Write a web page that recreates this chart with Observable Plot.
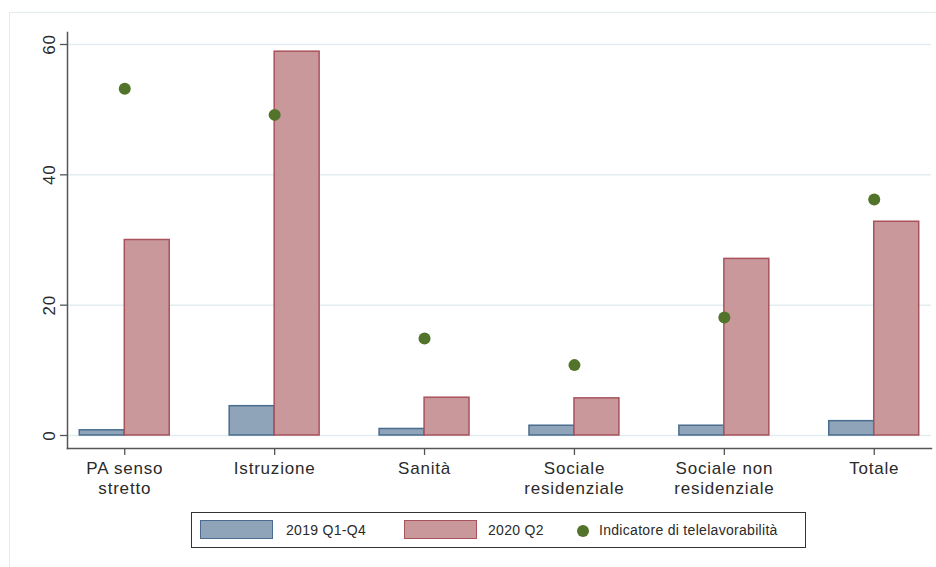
<!DOCTYPE html>
<html>
<head>
<meta charset="utf-8">
<script src="https://cdn.jsdelivr.net/npm/d3@7"></script>
<script src="https://cdn.jsdelivr.net/npm/@observablehq/plot@0.6"></script>
<style>
  body { margin: 0; background: #fff; font-family: "Liberation Sans", Arial, sans-serif; }
  #wrap { position: relative; width: 936px; height: 567px; overflow: hidden; background: #fff; }
  #frame { position: absolute; left: 9px; top: 12px; width: 1000px; height: 1000px; border: 1.5px solid #e4ecee; }
  #chart { position: absolute; left: 0; top: 0; }
  #legend { position: absolute; left: 191px; top: 512px; width: 615px; height: 36px; box-sizing: border-box; border: 1.3px solid #333; background: #fff; }
  #legend .sw { position: absolute; top: 7px; width: 73px; height: 19px; box-sizing: border-box; border: 1.5px solid; }
  #legend .dot { position: absolute; top: 12px; width: 12px; height: 12px; border-radius: 50%; }
  #legend .lab { position: absolute; top: 0; line-height: 34px; font-size: 14px; letter-spacing: 0.3px; color: #2a2a2a; white-space: nowrap; }
</style>
</head>
<body>
<div id="wrap">
  <div id="frame"></div>
  <div id="chart"></div>
  <div id="legend"></div>
</div>
<script>
// ---- data ----
const categories = ["PA senso stretto", "Istruzione", "Sanità", "Sociale residenziale", "Sociale non residenziale", "Totale"];
const tickLabels = ["PA senso\nstretto", "Istruzione", "Sanità", "Sociale\nresidenziale", "Sociale non\nresidenziale", "Totale"];
const seriesNames = ["2019 Q1-Q4", "2020 Q2", "Indicatore di telelavorabilità"];
const v2019 = [0.8, 4.5, 1.0, 1.5, 1.5, 2.2];
const v2020 = [30.0, 58.9, 5.8, 5.7, 27.1, 32.8];
const telelavoro = [53.2, 49.2, 14.9, 10.8, 18.1, 36.2];
const yTicks = [0, 20, 40, 60];

// ---- styles ----
const blueFill = "#8fa4b8", blueStroke = "#4a6d8f";
const redFill = "#c9989b", redStroke = "#a9525c";
const green = "#52732a";
const axisColor = "#555";

const rows = categories.map((c, i) => ({cat: c, a: v2019[i], b: v2020[i], t: telelavoro[i]}));

const plot = Plot.plot({
  width: 936,
  height: 510,
  marginLeft: 67,
  marginRight: 5,
  marginTop: 32,
  marginBottom: 62,
  style: {fontFamily: "'Liberation Sans', Arial, sans-serif", fontSize: "17px", color: "#2a2a2a", letterSpacing: "0.8px", background: "transparent"},
  x: {domain: categories, paddingInner: 0.4, paddingOuter: 0.082, round: false, axis: null},
  y: {domain: [0, 60], insetTop: 12, insetBottom: 13, axis: null},
  marks: [
    Plot.gridY(yTicks, {stroke: "#e2edf0", strokeOpacity: 1, strokeWidth: 1.5}),
    Plot.barY(rows, {x: "cat", y: "a", fill: blueFill, stroke: blueStroke, strokeWidth: 1.5, insetRight: 45}),
    Plot.barY(rows, {x: "cat", y: "b", fill: redFill, stroke: redStroke, strokeWidth: 1.5, insetLeft: 45}),
    Plot.dot(rows, {x: "cat", y: "t", r: 6, fill: green}),
    Plot.frame({anchor: "left", stroke: axisColor, strokeWidth: 1.5}),
    Plot.frame({anchor: "bottom", stroke: axisColor, strokeWidth: 1.5}),
    Plot.axisY(yTicks, {tickSize: 7, tickRotate: -90, tickPadding: 6, stroke: axisColor, strokeWidth: 1.3, label: null}),
    Plot.axisX({tickSize: 7, tickPadding: 4, lineHeight: 1.18, stroke: axisColor, strokeWidth: 1.3, label: null,
      tickFormat: d => tickLabels[categories.indexOf(d)]})
  ]
});
document.getElementById("chart").appendChild(plot);

// ---- legend (HTML, below/over the SVG) ----
const legend = document.getElementById("legend");
const legendItems = [
  {name: seriesNames[0], kind: "sw", fill: blueFill, stroke: blueStroke, left: 8, textLeft: 94},
  {name: seriesNames[1], kind: "sw", fill: redFill, stroke: redStroke, left: 212, textLeft: 296},
  {name: seriesNames[2], kind: "dot", fill: green, stroke: "none", left: 385, textLeft: 407}
];
for (const it of legendItems) {
  const s = document.createElement("div");
  s.className = it.kind;
  s.style.left = it.left + "px";
  s.style.background = it.fill;
  if (it.kind === "sw") s.style.borderColor = it.stroke;
  legend.appendChild(s);
  const t = document.createElement("div");
  t.className = "lab";
  t.style.left = it.textLeft + "px";
  t.textContent = it.name;
  legend.appendChild(t);
}
</script>
</body>
</html>
